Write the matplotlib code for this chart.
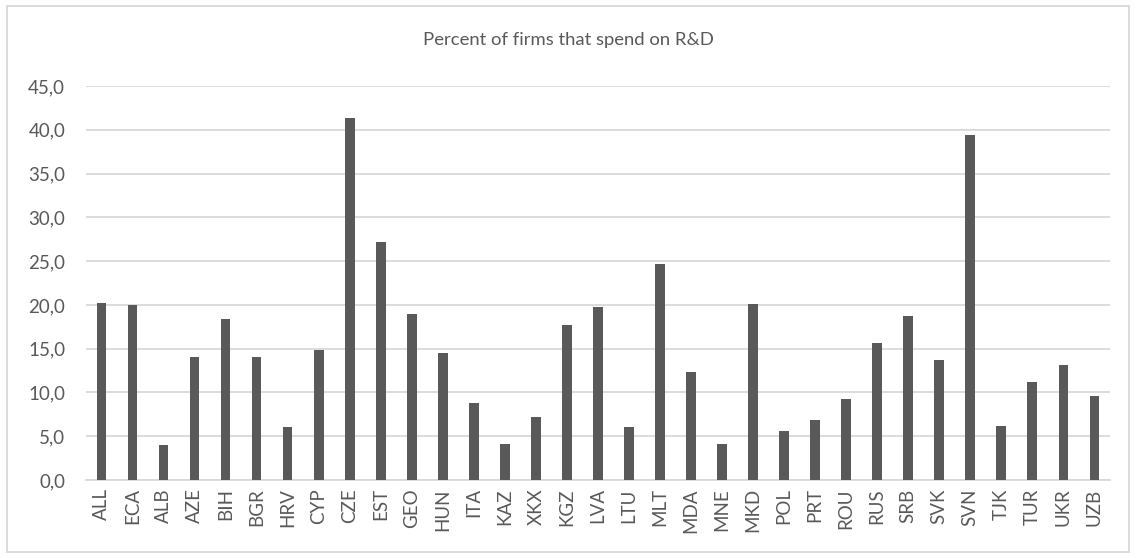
import numpy as np
import matplotlib.pyplot as plt
from matplotlib.patches import Rectangle
from matplotlib.ticker import FuncFormatter

# Percent of firms that spend on R&D, by economy
paises = ['ALL', 'ECA', 'ALB', 'AZE', 'BIH', 'BGR', 'HRV', 'CYP', 'CZE', 'EST',
          'GEO', 'HUN', 'ITA', 'KAZ', 'XKX', 'KGZ', 'LVA', 'LTU', 'MLT', 'MDA',
          'MNE', 'MKD', 'POL', 'PRT', 'ROU', 'RUS', 'SRB', 'SVK', 'SVN', 'TJK',
          'TUR', 'UKR', 'UZB']
valores = [20.2, 20.0, 4.0, 14.0, 18.4, 14.0, 6.0, 14.9, 41.4, 27.2,
           19.0, 14.5, 8.8, 4.1, 7.2, 17.7, 19.8, 6.0, 24.7, 12.3,
           4.1, 20.1, 5.6, 6.8, 9.2, 15.6, 18.7, 13.7, 39.4, 6.2,
           11.2, 13.1, 9.6]
yticks = np.arange(0, 46, 5)

gris = '#595959'
plt.rcParams['font.family'] = ['Lato', 'DejaVu Sans']

fig = plt.figure(figsize=(11.36, 5.58), dpi=100)
ax = fig.add_axes([0.0757, 0.1398, 0.9013, 0.7061])

x = np.arange(len(paises))
ax.bar(x, valores, width=0.31, color=gris, zorder=3)

ax.set_xlim(-0.5, len(paises) - 0.5)
ax.set_ylim(0, 45)
ax.set_yticks(yticks)
ax.yaxis.set_major_formatter(FuncFormatter(lambda v, p: f'{v:.1f}'.replace('.', ',')))
ax.set_xticks(x)
ax.set_xticklabels(paises, rotation=90)
ax.tick_params(length=0, colors=gris, labelsize=13.5)
ax.tick_params(axis='y', pad=15)
ax.tick_params(axis='x', pad=6)
ax.grid(axis='y', color='#d9d9d9', linewidth=1.3, zorder=0)
for s in ['top', 'right', 'left']:
    ax.spines[s].set_visible(False)
ax.spines['bottom'].set_color('#d9d9d9')
ax.spines['bottom'].set_linewidth(1.3)

fig.text(0.5, 0.928, 'Percent of firms that spend on R&D', ha='center', va='center',
         color=gris, fontsize=13.3)

# borde exterior del grafico
fig.patches.append(Rectangle((0.006, 0.011), 0.988, 0.978, transform=fig.transFigure,
                             fill=False, edgecolor='#d9d9d9', linewidth=1.3))

fig.savefig('out.png', dpi=100)
